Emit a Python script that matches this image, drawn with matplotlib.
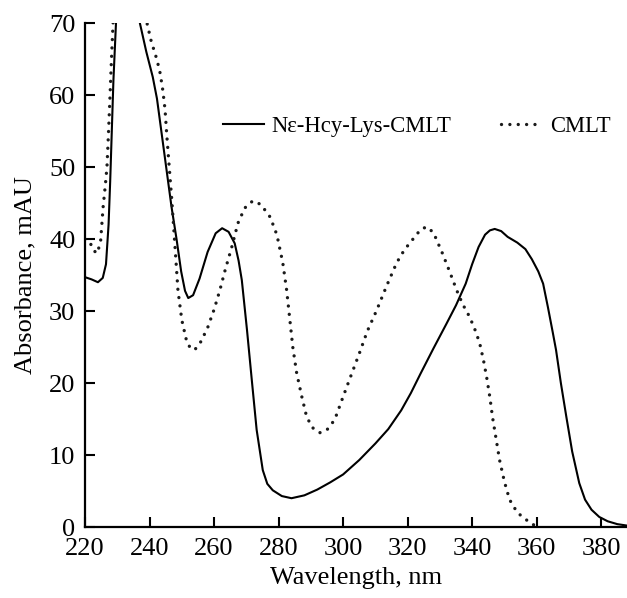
import matplotlib
matplotlib.use('Agg')
import matplotlib.pyplot as plt

plt.rcParams['font.family'] = ['Liberation Serif', 'DejaVu Serif']

# N-epsilon-Hcy-Lys-CMLT (solid)
wl1 = [220, 222, 224, 225.5, 226.5, 227.3, 227.8, 228.3, 228.8, 229.6, 230.5, 232, 234, 236,
       237, 239, 241, 242.3, 243.8, 245.3, 246.8, 248.4, 249.8, 251, 252, 253.5, 255.5, 258,
       260.5, 262.5, 264.5, 266.4, 267.6, 268.6, 270.2, 271.7, 273.2, 275.1, 276.5, 278.2,
       281, 284, 288, 292, 296, 300, 305, 310, 314, 318, 321, 324, 328, 332, 335, 338, 340,
       342, 344, 345.5, 347, 349, 351, 354, 356.5, 358.5, 360.5, 362, 363.5, 365, 366, 367.5,
       369.2, 371, 373.2, 375, 377, 379.4, 382, 385, 388]
ab1 = [34.7, 34.4, 34.0, 34.6, 36.5, 42, 48, 55, 62, 70, 80, 90, 95, 82,
       70, 66, 62.5, 59.5, 54.5, 49.5, 44.5, 39.9, 35.5, 32.8, 31.8, 32.2, 34.5, 38.2,
       40.8, 41.5, 41, 39.4, 37, 34.3, 27.4, 20.4, 13.5, 7.9, 6.0, 5.1,
       4.3, 4.0, 4.4, 5.2, 6.2, 7.3, 9.3, 11.6, 13.6, 16.2, 18.6, 21.3, 24.8, 28.2, 30.8, 33.8, 36.5,
       38.9, 40.6, 41.2, 41.4, 41.1, 40.3, 39.5, 38.6, 37.2, 35.5, 33.8, 30.5, 27, 24.6, 20,
       15.3, 10.5, 6.1, 3.8, 2.4, 1.4, 0.8, 0.4, 0.2]

# CMLT (dotted)
wl2 = [220, 221.5, 222.5, 223.7, 224.8, 225.6, 226.3, 226.8, 227.3, 227.7, 228.2, 228.7, 230,
       233, 236, 239.2, 240.5, 242.3, 243.3, 244.1, 244.8, 245.3, 246.1, 246.9, 247.9, 248.8,
       250, 251.6, 252.8, 254, 256, 258.1, 260, 261.8, 263.5, 265.5, 267.4, 269.5, 272, 274.5,
       277.3, 279, 279.8, 281.3, 282.5, 283.5, 284.4, 285.6, 287.2, 288.7, 290.5, 292.8, 295,
       297.4, 300, 302, 305.1, 307.5, 310.4, 313.5, 316.6, 319, 321.5, 324, 325.9, 328, 330.8,
       333, 335.2, 337, 339.2, 340.8, 342.3, 343.5, 344.5, 345.5, 346.3, 347.4, 348.5, 350,
       351.6, 354, 356.8, 358.5, 360.9]
ab2 = [40.0, 39.6, 38.5, 38.0, 39.5, 44.4, 47.5, 50, 55, 59.3, 65, 70, 85,
       100, 90, 70, 67.5, 64.9, 63, 60.7, 58, 54.7, 50, 45.4, 38.9, 32.9,
       28.75, 25.6, 24.8, 24.6, 25.8, 27.8, 30.2, 32.9, 35.8, 38.9, 42.2, 44.3, 45.3, 44.8,
       43.1, 41.2, 39.9, 36.7, 32.9, 28.75, 25, 21.4, 18.1, 15.3, 13.8, 13.1, 13.5,
       14.9, 18.1, 20.5, 24.2, 27.2, 30.1, 33.5, 36.7, 38.5, 39.9, 41.3, 41.7, 40.9, 38.0,
       35.5, 32.9, 31, 29.2, 27.5, 25.6, 23.2, 20.8, 18, 15.3, 12.3, 9.3, 6.3,
       3.8, 2.0, 1.0, 0.4, 0]

xticks = [220, 240, 260, 280, 300, 320, 340, 360, 380]
yticks = [0, 10, 20, 30, 40, 50, 60, 70]

fig = plt.figure(figsize=(6.27, 5.98), dpi=100)
ax = fig.add_axes([0.1356, 0.1187, 0.8644, 0.8428])

ax.plot(wl1, ab1, color='black', lw=1.5, label='N\u03b5-Hcy-Lys-CMLT')
ax.plot(wl2, ab2, color='#1a1a1a', lw=2.4, linestyle=(0, (0.01, 2.5)),
        dash_capstyle='round', label='CMLT')

ax.set_xlim(220, 388)
ax.set_ylim(0, 70)
ax.set_xticks(xticks)
ax.set_yticks(yticks)

for s in ['top', 'right']:
    ax.spines[s].set_visible(False)
for s in ['left', 'bottom']:
    ax.spines[s].set_linewidth(1.6)

ax.tick_params(direction='in', length=7, width=1.5, labelsize=19, pad=7)
ax.tick_params(axis='x', pad=8)

ax.set_xlabel('Wavelength, nm', fontsize=19, labelpad=5)
ax.set_ylabel('Absorbance, mAU', fontsize=19, labelpad=9)

ax.legend(loc='center left', bbox_to_anchor=(0.2546, 0.794), ncol=2, frameon=False,
          fontsize=16.3, handlelength=1.8, handletextpad=0.35, columnspacing=2.2,
          borderpad=0, borderaxespad=0)

fig.savefig('out.png', dpi=100)
